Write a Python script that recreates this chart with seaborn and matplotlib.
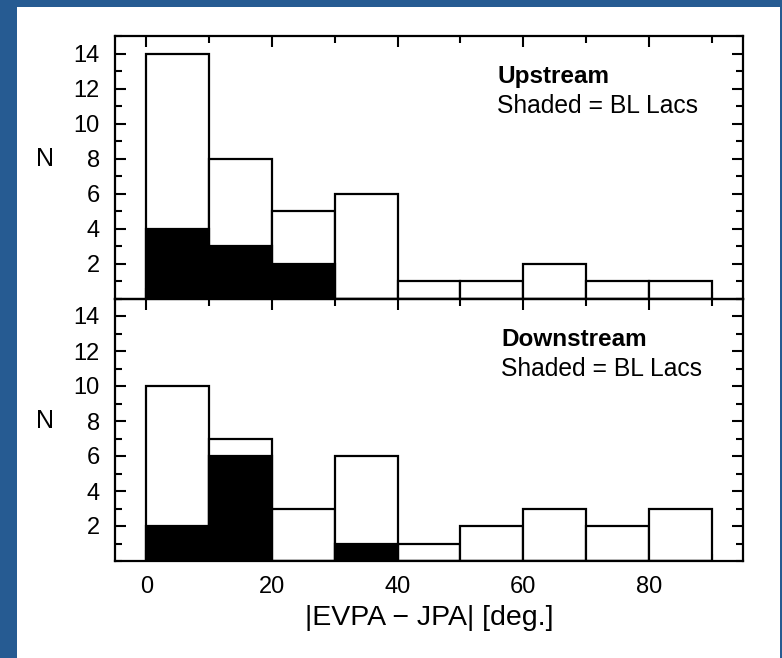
import numpy as np
import pandas as pd
import matplotlib
matplotlib.use("Agg")
import matplotlib.pyplot as plt
from matplotlib.patches import Rectangle
from matplotlib.ticker import MultipleLocator
import seaborn as sns

# |EVPA - JPA| histograms in 10-degree bins
bin_edges = [0, 10, 20, 30, 40, 50, 60, 70, 80, 90]
bin_centers = [5, 15, 25, 35, 45, 55, 65, 75, 85]

upstream_all = [14, 8, 5, 6, 1, 1, 2, 1, 1]
upstream_bllac = [4, 3, 2, 0, 0, 0, 0, 0, 0]

downstream_all = [10, 7, 3, 6, 1, 2, 3, 2, 3]
downstream_bllac = [2, 6, 0, 1, 0, 0, 0, 0, 0]

panel_titles = ["Upstream", "Downstream"]
shaded_note = "Shaded = BL Lacs"
y_label = "N"
x_label = "|EVPA \u2212 JPA| [deg.]"
y_ticks = [2, 4, 6, 8, 10, 12, 14]
x_ticks = [0, 20, 40, 60, 80]

sns.set_theme(style="white")
plt.rcParams["font.family"] = ["Liberation Sans", "DejaVu Sans"]

W, H = 782, 658
fig = plt.figure(figsize=(W / 100, H / 100), dpi=100, facecolor="#265b92")
fig.patches.append(Rectangle((17 / W, 0), (780 - 17) / W, (H - 7) / H,
                             transform=fig.transFigure, facecolor="white",
                             edgecolor="none", zorder=-10))

ax_left = 115 / W
ax_w = (743 - 115) / W
ax_top = fig.add_axes([ax_left, 1 - 298.5 / H, ax_w, 262.5 / H])
ax_bot = fig.add_axes([ax_left, 1 - 561 / H, ax_w, 262.5 / H])

lw = 1.6
panels = [
    (ax_top, upstream_all, upstream_bllac, panel_titles[0], 0),
    (ax_bot, downstream_all, downstream_bllac, panel_titles[1], 4),
]

for ax, totals, shaded, title, dx in panels:
    ax.set_facecolor("none")
    df_all = pd.DataFrame({"x": bin_centers, "n": totals})
    df_bl = pd.DataFrame({"x": bin_centers, "n": shaded})
    df_bl = df_bl[df_bl["n"] > 0]
    sns.histplot(data=df_all, x="x", weights="n", bins=bin_edges, ax=ax,
                 color="white", edgecolor="black", linewidth=lw, alpha=1)
    sns.histplot(data=df_bl, x="x", weights="n", bins=bin_edges, ax=ax,
                 color="black", edgecolor="black", linewidth=lw, alpha=1)

    ax.set_xlim(-5, 95)
    ax.set_ylim(0, 15)
    ax.set_xlabel("")
    ax.set_ylabel("")
    ax.set_yticks(y_ticks)
    ax.yaxis.set_minor_locator(MultipleLocator(1))
    ax.set_xticks(x_ticks)
    ax.xaxis.set_minor_locator(MultipleLocator(10))
    ax.tick_params(which="both", direction="in", top=True, right=True,
                   bottom=True, left=True, width=1.5, color="black",
                   labelsize=17, pad=11, labelcolor="black")
    ax.tick_params(which="major", length=8)
    ax.tick_params(which="minor", length=5)
    for s in ax.spines.values():
        s.set_linewidth(1.6)
        s.set_color("black")
        s.set_zorder(5)

    ax.text(-0.111, 8.0, y_label, transform=ax.get_yaxis_transform(),
            ha="center", va="center", fontsize=18, color="black")
    x0 = (497 + dx - 115) / 628
    ax.text(x0, 0.845, title, transform=ax.transAxes, ha="left", va="center",
            fontsize=17.5, fontweight="bold", color="black")
    ax.text(x0, 0.733, shaded_note, transform=ax.transAxes, ha="left",
            va="center", fontsize=17.7, color="black")

ax_top.tick_params(labelbottom=False)
ax_bot.set_xlabel(x_label, fontsize=20.5, color="black", labelpad=5)

fig.savefig("out.png", dpi=100, facecolor=fig.get_facecolor())
